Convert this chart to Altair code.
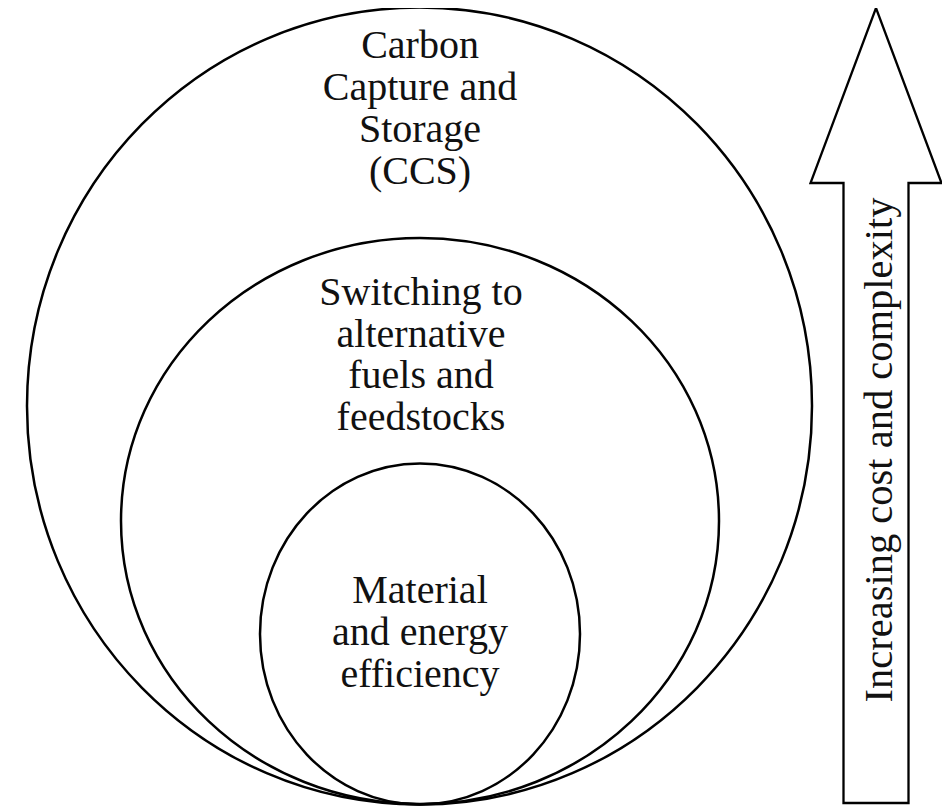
import altair as alt
import pandas as pd

# ---- Diagram values (units = reference pixels) ----
circle_names = ["CCS", "Fuel switching", "Efficiency"]
circle_cx = [419.5, 420.0, 420.0]
circle_cy = [406.0, 521.0, 634.0]
circle_rx = [392.5, 299.0, 160.0]
circle_ry = [398.5, 283.0, 170.5]

label_lines = [
    ["Carbon", "Capture and", "Storage", "(CCS)"],
    ["Switching to", "alternative", "fuels and", "feedstocks"],
    ["Material", "and energy", "efficiency"],
]
label_center_x = [420.0, 421.0, 420.0]
label_first_baseline = [58.0, 305.0, 603.0]
label_line_height = [42.0, 41.5, 42.0]

arrow_label = "Increasing cost and complexity"
arrow_cx = 876.0
arrow_tip_y = 8.0
arrow_head_base_y = 183.0
arrow_bottom_y = 803.0
arrow_head_half = 65.5
arrow_shaft_half = 32.5
arrow_label_x = 892.0
arrow_label_y = 450.0

W, H = 934, 799
XS = alt.Scale(domain=[8, 8 + W], nice=False, zero=False)
YS = alt.Scale(domain=[8, 8 + H], reverse=True, nice=False, zero=False)
SS = alt.Scale(type="pow", exponent=2, domain=[0, 400], range=[0, 800 ** 2])

FONT = "Liberation Serif"
INK = "#111111"


def ellipse_path(k):
    c = 0.5522847
    return (
        f"M -1 0 C -1 {-c*k:.4f} {-c:.4f} {-k:.4f} 0 {-k:.4f} "
        f"C {c:.4f} {-k:.4f} 1 {-c*k:.4f} 1 0 "
        f"C 1 {c*k:.4f} {c:.4f} {k:.4f} 0 {k:.4f} "
        f"C {-c:.4f} {k:.4f} -1 {c*k:.4f} -1 0 Z"
    )


layers = []

# Ellipses (nested circles)
for name, cx, cy, rx, ry in zip(circle_names, circle_cx, circle_cy, circle_rx, circle_ry):
    df = pd.DataFrame({"name": [name], "cx": [cx], "cy": [cy], "rx": [rx]})
    layers.append(
        alt.Chart(df)
        .mark_point(shape=ellipse_path(ry / rx), filled=False, color="black",
                    strokeWidth=2.5, opacity=1)
        .encode(
            x=alt.X("cx:Q", scale=XS, axis=None),
            y=alt.Y("cy:Q", scale=YS, axis=None),
            size=alt.Size("rx:Q", scale=SS, legend=None),
        )
    )

# Labels inside circles
rows = []
for lines, lx, y0, lh in zip(label_lines, label_center_x, label_first_baseline, label_line_height):
    for i, t in enumerate(lines):
        rows.append({"text": t, "x": lx, "y": y0 + i * lh})
labels_df = pd.DataFrame(rows)
layers.append(
    alt.Chart(labels_df)
    .mark_text(font=FONT, fontSize=40, align="center", baseline="alphabetic", color=INK)
    .encode(
        x=alt.X("x:Q", scale=XS, axis=None),
        y=alt.Y("y:Q", scale=YS, axis=None),
        text="text:N",
    )
)

# Arrow outline
ax = [arrow_cx - arrow_shaft_half, arrow_cx - arrow_shaft_half, arrow_cx - arrow_head_half,
      arrow_cx, arrow_cx + arrow_head_half, arrow_cx + arrow_shaft_half,
      arrow_cx + arrow_shaft_half, arrow_cx - arrow_shaft_half]
ay = [arrow_bottom_y, arrow_head_base_y, arrow_head_base_y, arrow_tip_y,
      arrow_head_base_y, arrow_head_base_y, arrow_bottom_y, arrow_bottom_y]
arrow_df = pd.DataFrame({"x": ax, "y": ay, "o": list(range(len(ax)))})
layers.append(
    alt.Chart(arrow_df)
    .mark_line(color="black", strokeWidth=2.3, strokeJoin="miter", strokeCap="square")
    .encode(
        x=alt.X("x:Q", scale=XS, axis=None),
        y=alt.Y("y:Q", scale=YS, axis=None),
        order="o:Q",
    )
)

# Arrow label
arrow_text_df = pd.DataFrame({"text": [arrow_label], "x": [arrow_label_x], "y": [arrow_label_y]})
layers.append(
    alt.Chart(arrow_text_df)
    .mark_text(font=FONT, fontSize=40.5, align="center", baseline="alphabetic",
               angle=270, color=INK)
    .encode(
        x=alt.X("x:Q", scale=XS, axis=None),
        y=alt.Y("y:Q", scale=YS, axis=None),
        text="text:N",
    )
)

chart = (
    alt.layer(*layers)
    .properties(width=W, height=H, padding=0, autosize=alt.AutoSizeParams(type="none"),
                background="white")
    .configure_view(stroke=None)
)

chart.save("out.html", embed_options={"renderer": "svg", "actions": False})
